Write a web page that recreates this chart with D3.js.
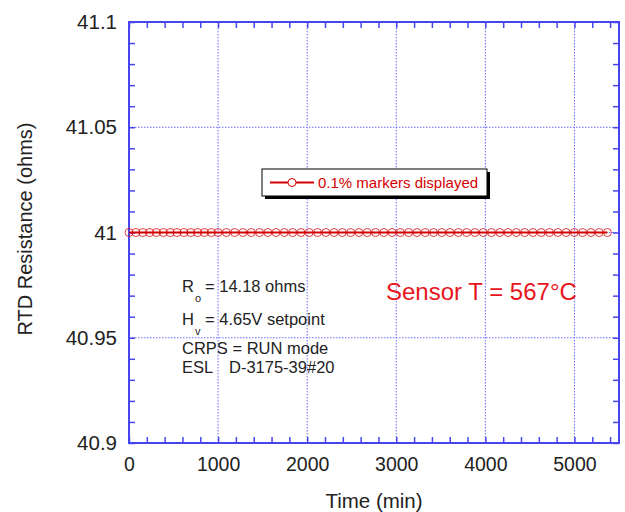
<!DOCTYPE html>
<html>
<head>
<meta charset="utf-8">
<script src="https://cdn.jsdelivr.net/npm/d3@7"></script>
<style>
  body { margin: 0; background: #fff; }
  text { font-family: "Liberation Sans", Arial, sans-serif; }
</style>
</head>
<body>
<script>
// data
var times = [0, 77, 154, 231, 308, 385, 462, 539, 616, 693, 770, 847, 924,
  1000, 1093, 1186, 1279, 1372, 1465, 1558, 1651, 1744, 1837, 1930,
  2023, 2116, 2209, 2302, 2395, 2488, 2581, 2674, 2767, 2860, 2953,
  3046, 3139, 3232, 3325, 3418, 3511, 3604, 3697, 3790, 3883, 3976,
  4069, 4162, 4255, 4348, 4441, 4534, 4627, 4720, 4813, 4906, 4999,
  5092, 5185, 5278, 5370];
var resistance = [41, 41, 41, 41, 41, 41, 41, 41, 41, 41, 41, 41, 41,
  41, 41, 41, 41, 41, 41, 41, 41, 41, 41, 41,
  41, 41, 41, 41, 41, 41, 41, 41, 41, 41, 41,
  41, 41, 41, 41, 41, 41, 41, 41, 41, 41, 41,
  41, 41, 41, 41, 41, 41, 41, 41, 41, 41, 41,
  41, 41, 41, 41];
var xTicks = [0, 1000, 2000, 3000, 4000, 5000];
var yTicks = [40.9, 40.95, 41, 41.05, 41.1];
var yTickLabels = ["40.9", "40.95", "41", "41.05", "41.1"];
var legendLabel = "0.1% markers displayed";

var margin = {top: 22, right: 5, bottom: 69, left: 129},
    width = 625 - margin.left - margin.right,
    height = 512 - margin.top - margin.bottom;

var axisColor = "#4646ee", gridColor = "#6a6aff", red = "#d40000";

var svg = d3.select("body").append("svg")
    .attr("width", 625)
    .attr("height", 512)
  .append("g")
    .attr("transform", "translate(" + margin.left + "," + margin.top + ")");

var x = d3.scaleLinear().domain([0, 5500]).range([0, width - 1]);
var y = d3.scaleLinear().domain([40.9, 41.1]).range([height, 0]);

// grid lines
svg.selectAll(".vgrid")
    .data(xTicks.slice(1))
  .enter().append("line")
    .attr("x1", function(d) { return x(d); })
    .attr("x2", function(d) { return x(d); })
    .attr("y1", 0).attr("y2", height)
    .attr("stroke", gridColor).attr("stroke-width", 1)
    .attr("stroke-dasharray", "1.5,1.5");
svg.selectAll(".hgrid")
    .data(yTicks.slice(1, -1))
  .enter().append("line")
    .attr("y1", function(d) { return y(d); })
    .attr("y2", function(d) { return y(d); })
    .attr("x1", 0).attr("x2", width - 1)
    .attr("stroke", gridColor).attr("stroke-width", 1)
    .attr("stroke-dasharray", "1.5,1.5");

// axes (ticks inside, on all four sides)
function styleAxis(size) {
  return function(g) {
    g.select(".domain").remove();
    g.selectAll(".tick line").attr("stroke", axisColor).attr("stroke-width", 1.5);
    g.selectAll("text").attr("fill", "#222").style("font-size", size + "px");
  };
}
var xMinor = d3.range(0, 5501, 200);
var yMinor = d3.range(0, 21).map(function(i) { return 40.9 + i * 0.01; });

svg.append("g")
    .attr("transform", "translate(0," + height + ")")
    .call(d3.axisBottom(x).tickValues(xMinor).tickSize(-6).tickFormat(""))
    .call(styleAxis(19));
svg.append("g")
    .attr("transform", "translate(0," + height + ")")
    .call(d3.axisBottom(x).tickValues(xTicks).tickSize(0).tickPadding(14).tickFormat(d3.format("d")))
    .call(styleAxis(19.5));
svg.append("g")
    .call(d3.axisTop(x).tickValues(xMinor).tickSize(-6).tickFormat(""))
    .call(styleAxis(19));

svg.append("g")
    .call(d3.axisLeft(y).tickValues(yMinor).tickSize(-6).tickFormat(""))
    .call(styleAxis(19));
svg.append("g")
    .call(d3.axisLeft(y).tickValues(yTicks).tickSize(0).tickPadding(12)
      .tickFormat(function(d, i) { return yTickLabels[i]; }))
    .call(styleAxis(20.5));
svg.append("g")
    .attr("transform", "translate(" + (width - 1) + ",0)")
    .call(d3.axisRight(y).tickValues(yMinor).tickSize(-6).tickFormat(""))
    .call(styleAxis(19));

// frame
svg.append("rect")
    .attr("x", 0).attr("y", 0)
    .attr("width", width - 1).attr("height", height)
    .attr("fill", "none").attr("stroke", axisColor).attr("stroke-width", 2);

// data line + markers
var data = times.map(function(t, i) { return {t: t, v: resistance[i]}; });
svg.append("path")
    .datum(data)
    .attr("fill", "none").attr("stroke", red).attr("stroke-width", 2)
    .attr("d", d3.line().x(function(d) { return x(d.t); }).y(function(d) { return y(d.v); }));
svg.selectAll(".mk")
    .data(data)
  .enter().append("circle")
    .attr("cx", function(d) { return x(d.t); })
    .attr("cy", function(d) { return y(d.v); })
    .attr("r", 4)
    .attr("fill", "none").attr("stroke", red).attr("stroke-opacity", 0.75).attr("stroke-width", 1);

// legend
var lg = svg.append("g").attr("transform", "translate(" + (262 - margin.left) + "," + (169 - margin.top) + ")");
lg.append("rect").attr("x", 3).attr("y", 3).attr("width", 225).attr("height", 27).attr("fill", "#000");
lg.append("rect").attr("x", 0).attr("y", 0).attr("width", 225).attr("height", 27)
    .attr("fill", "#fff").attr("stroke", "#000").attr("stroke-width", 1);
lg.append("line").attr("x1", 8).attr("x2", 52).attr("y1", 13.5).attr("y2", 13.5)
    .attr("stroke", red).attr("stroke-width", 2);
lg.append("circle").attr("cx", 30).attr("cy", 13.5).attr("r", 4)
    .attr("fill", "#fff").attr("stroke", red).attr("stroke-width", 1);
lg.append("text").attr("x", 56).attr("y", 19).attr("fill", red)
    .style("font-size", "15px").text(legendLabel);

// annotations
var ax0 = 182 - margin.left, ax1 = 205 - margin.left;
var ann = svg.append("g").attr("fill", "#222").style("font-size", "16.5px");
var t1 = ann.append("text").attr("x", ax0).attr("y", 292 - margin.top);
t1.append("tspan").text("R");
t1.append("tspan").attr("dy", 10).attr("dx", 1).style("font-size", "11px").text("o");
t1.append("tspan").attr("dy", -10).attr("x", ax1).text("= 14.18 ohms");
var t2 = ann.append("text").attr("x", ax0).attr("y", 325 - margin.top);
t2.append("tspan").text("H");
t2.append("tspan").attr("dy", 10).attr("dx", 1).style("font-size", "11px").text("v");
t2.append("tspan").attr("dy", -10).attr("x", ax1).text("= 4.65V setpoint");
ann.append("text").attr("x", ax0).attr("y", 354 - margin.top).text("CRPS = RUN mode");
var t4 = ann.append("text").attr("x", ax0).attr("y", 373 - margin.top);
t4.append("tspan").text("ESL");
t4.append("tspan").attr("x", 229 - margin.left).text("D-3175-39#20");

svg.append("text").attr("x", 386 - margin.left).attr("y", 300 - margin.top)
    .attr("fill", "#e8141c").style("font-size", "24px").text("Sensor T = 567°C");

// axis titles
svg.append("text")
    .attr("x", 374 - margin.left).attr("y", 508 - margin.top)
    .attr("text-anchor", "middle").attr("fill", "#222")
    .style("font-size", "20.5px").text("Time (min)");
svg.append("text")
    .attr("transform", "translate(" + (32 - margin.left) + "," + (229 - margin.top) + ") rotate(-90)")
    .attr("text-anchor", "middle").attr("fill", "#222")
    .style("font-size", "20px").text("RTD Resistance (ohms)");
</script>
</body>
</html>
